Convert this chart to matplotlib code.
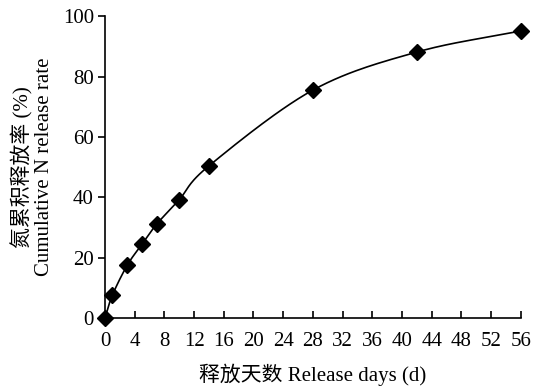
import numpy as np
import matplotlib
matplotlib.use('Agg')
import matplotlib.pyplot as plt

# 释放天数与氮累积释放率
days = [0, 1, 3, 5, 7, 10, 14, 28, 42, 56]
release = [0, 7.6, 17.5, 24.5, 31.2, 39.2, 50.4, 75.5, 88.1, 95.1]
x_ticks = list(range(0, 57, 4))
y_ticks = [0, 20, 40, 60, 80, 100]

FONT = ['Liberation Serif', 'Noto Sans CJK SC']


def smooth_curve(x, y, n=30):
    """Catmull-Rom 平滑曲线 (类似 Excel 的平滑线)"""
    x = np.asarray(x, float)
    y = np.asarray(y, float)
    px = np.concatenate([[2 * x[0] - x[1]], x, [2 * x[-1] - x[-2]]])
    py = np.concatenate([[2 * y[0] - y[1]], y, [2 * y[-1] - y[-2]]])
    xs, ys = [], []
    t = np.linspace(0, 1, n)
    for i in range(1, len(px) - 2):
        for arr, out in ((px, xs), (py, ys)):
            p0, p1, p2, p3 = arr[i - 1:i + 3]
            m1 = (p2 - p0) / 6
            m2 = (p3 - p1) / 6
            c1 = p1 + m1
            c2 = p2 - m2
            out.extend((1 - t) ** 3 * p1 + 3 * (1 - t) ** 2 * t * c1
                       + 3 * (1 - t) * t ** 2 * c2 + t ** 3 * p2)
    return np.array(xs), np.array(ys)


plt.rcParams['font.family'] = FONT
fig = plt.figure(figsize=(5.33, 3.9), dpi=100)
ax = fig.add_axes([0.197, 0.1846, 0.780, 0.774])

sx, sy = smooth_curve(days, release)
ax.plot(sx, sy, color='black', lw=1.2, clip_on=False)
ax.plot(days, release, linestyle='none', marker='D', markersize=8,
        color='black', clip_on=False, zorder=3)

ax.set_xlim(0, 56)
ax.set_ylim(0, 100)
ax.set_xticks(x_ticks)
ax.set_yticks(y_ticks)
for s in ('top', 'right'):
    ax.spines[s].set_visible(False)
for s in ('left', 'bottom'):
    ax.spines[s].set_linewidth(1.2)
ax.tick_params(axis='x', direction='in', length=5, width=1.2, labelsize=15, pad=10)
ax.tick_params(axis='y', direction='out', length=5, width=1.2, labelsize=15, pad=3)

ax.set_xlabel('释放天数 Release days (d)', fontsize=15, labelpad=9)
ax.set_ylabel('氮累积释放率 (%)\nCumulative N release rate', fontsize=15,
              labelpad=6, linespacing=1.15)

fig.savefig('out.png', dpi=100)
